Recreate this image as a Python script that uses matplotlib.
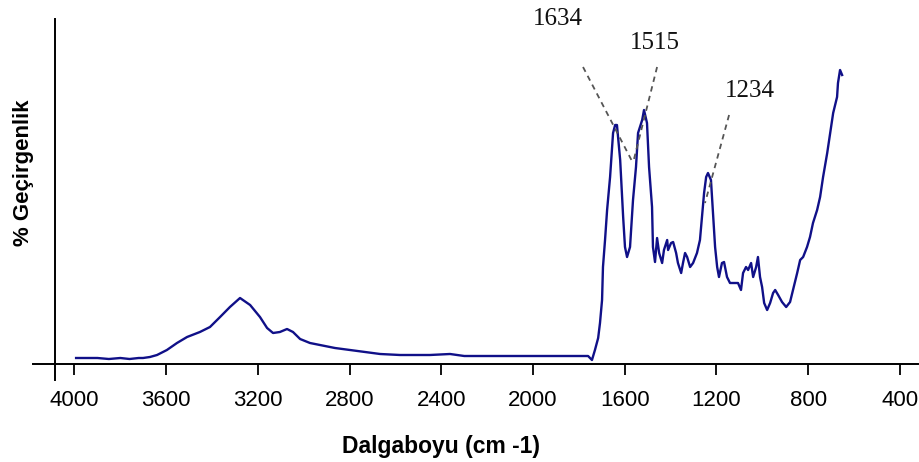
import matplotlib.pyplot as plt

# Espectro FTIR - % Gecirgenlik vs dalgaboyu

# dalgaboyu (cm-1)
dalgaboyu = [3993, 3960, 3900, 3850, 3800, 3760, 3720, 3701, 3671, 3640,
             3597, 3553, 3509, 3453, 3409, 3365, 3322, 3278, 3234, 3191,
             3160, 3134, 3104, 3073, 3047, 3016, 2973, 2929, 2864, 2798,
             2733, 2667, 2580, 2450, 2362, 2300, 2144, 1882, 1760, 1743,
             1730, 1716, 1708, 1699, 1695, 1686, 1677, 1664, 1651, 1642,
             1634, 1620, 1607, 1599, 1590, 1577, 1564, 1551, 1542, 1524,
             1516, 1503, 1494, 1481, 1477, 1468, 1459, 1450, 1437, 1429,
             1415, 1411, 1398, 1389, 1376, 1368, 1354, 1346, 1337, 1328,
             1315, 1302, 1285, 1272, 1263, 1254, 1245, 1237, 1224, 1215,
             1206, 1197, 1189, 1176, 1167, 1154, 1141, 1128, 1106, 1093,
             1084, 1071, 1062, 1049, 1040, 1027, 1019, 1010, 1001, 992,
             979, 966, 953, 944, 931, 914, 896, 879, 866, 848,
             835, 822, 805, 792, 779, 761, 748, 735, 717, 704,
             691, 674, 670, 661, 652]

# gecirgenlik (unidades arbitrarias)
gecirgenlik = [6, 6, 6, 5, 6, 5, 6, 6, 7, 9,
               14, 21, 27, 32, 37, 47, 57, 66, 59, 47,
               36, 31, 32, 35, 32, 25, 21, 19, 16, 14,
               12, 10, 9, 9, 10, 8, 8, 8, 8, 4,
               14, 26, 41, 64, 97, 124, 154, 187, 231, 239,
               239, 204, 147, 117, 107, 117, 164, 197, 231, 244,
               254, 241, 197, 157, 117, 102, 126, 111, 101, 114,
               124, 114, 121, 122, 111, 101, 91, 101, 111, 107,
               97, 101, 111, 124, 147, 171, 187, 191, 184, 151,
               117, 97, 87, 101, 102, 87, 81, 81, 81, 74,
               91, 97, 94, 101, 87, 97, 107, 87, 77, 61,
               54, 61, 71, 74, 69, 62, 57, 62, 74, 91,
               104, 107, 117, 127, 141, 154, 167, 187, 211, 231,
               251, 267, 281, 294, 289]

# etiquetas de picos
picos = ["1634", "1515", "1234"]
pos_texto = [(1891, 345), (1468, 321), (1053, 273)]
inicio_linea = [(1782, 297), (1459, 297), (1145, 249)]
fin_linea = [(1564, 201), (1564, 201), (1250, 161)]

ticks_x = [4000, 3600, 3200, 2800, 2400, 2000, 1600, 1200, 800, 400]

plt.rcParams['font.family'] = ['Liberation Sans', 'DejaVu Sans']

fig = plt.figure(figsize=(9.2, 4.62), dpi=100)
ax = fig.add_axes([55 / 920, 98 / 462, 863 / 920, 345 / 462])

ax.plot(dalgaboyu, gecirgenlik, color='#101088', lw=1.7)

for etiqueta, t, a, b in zip(picos, pos_texto, inicio_linea, fin_linea):
    ax.plot([a[0], b[0]], [a[1], b[1]], color='#555555', ls=(0, (3, 2.5)), lw=1.3)
    ax.text(t[0], t[1], etiqueta, ha='center', va='center', fontsize=18,
            family='Liberation Serif', color='#111111')

ax.set_xlim(4085, 321)
ax.set_ylim(0, 345)

for lado in ['top', 'right']:
    ax.spines[lado].set_visible(False)
for lado in ['left', 'bottom']:
    ax.spines[lado].set_linewidth(1.4)

# ejes cruzados estilo excel
ax.plot([-22 / 863, 0], [0, 0], transform=ax.transAxes, clip_on=False, color='k', lw=1.4)
ax.plot([0, 0], [-16 / 345, 0], transform=ax.transAxes, clip_on=False, color='k', lw=1.4)

ax.set_xticks(ticks_x)
ax.set_yticks([])
ax.tick_params(axis='x', direction='out', length=8, width=1.3, pad=11, labelsize=16)

ax.set_xlabel("Dalgaboyu (cm -1)", fontsize=16.5, fontweight='bold')
ax.xaxis.set_label_coords(0.447, -0.205)
ax.set_ylabel("% Geçirgenlik", fontsize=16, fontweight='bold')
ax.yaxis.set_label_coords(-0.024, 0.554)

plt.savefig("out.png", dpi=100)
